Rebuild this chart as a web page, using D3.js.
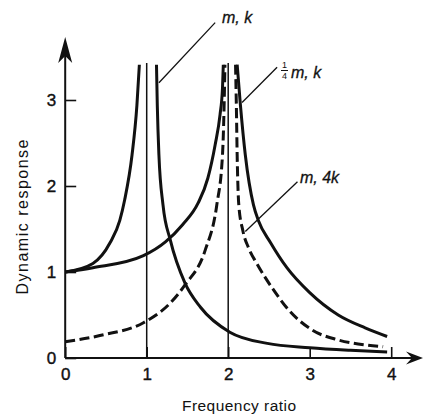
<!DOCTYPE html>
<html>
<head>
<meta charset="utf-8">
<script src="https://cdn.jsdelivr.net/npm/d3@7"></script>
<style>
  body { margin: 0; background: #fff; }
  text { font-family: "Liberation Sans", Arial, sans-serif; fill: #111; }
</style>
</head>
<body>
<div id="plot"></div>
<script>
// curve points: [frequency ratio, dynamic response]
var mkLeft = [[0, 1.0], [0.34, 1.10], [0.55, 1.34], [0.67, 1.60], [0.73, 1.84], [0.82, 2.36], [0.88, 2.94], [0.91, 3.41]]
var mkRight = [[1.12, 3.41], [1.13, 2.94], [1.15, 2.36], [1.20, 1.78], [1.29, 1.37], [1.47, 0.87], [1.66, 0.59], [2.02, 0.30], [2.48, 0.17], [3.0, 0.12], [3.5, 0.09], [3.95, 0.07]]
var quarterLeft = [[0, 1.0], [0.34, 1.05], [0.96, 1.19], [1.23, 1.35], [1.44, 1.55], [1.63, 1.80], [1.75, 2.09], [1.84, 2.48], [1.90, 2.83], [1.93, 3.14], [1.94, 3.41]]
var quarterRight = [[2.11, 3.41], [2.15, 2.94], [2.21, 2.36], [2.31, 1.78], [2.37, 1.60], [2.52, 1.34], [2.72, 1.05], [3.0, 0.76], [3.35, 0.50], [3.68, 0.35], [3.95, 0.25]]
var stiffLeft = [[0, 0.19], [0.47, 0.27], [0.96, 0.41], [1.29, 0.64], [1.47, 0.85], [1.72, 1.26], [1.86, 1.78], [1.93, 2.36], [1.95, 2.94], [1.96, 3.41]]
var stiffRight = [[2.09, 3.41], [2.10, 2.94], [2.11, 2.36], [2.13, 1.78], [2.18, 1.48], [2.25, 1.28], [2.35, 1.10], [2.55, 0.80], [2.75, 0.55], [3.04, 0.32], [3.35, 0.21], [3.7, 0.15], [3.9, 0.13]]

// resonance lines and ticks
var resonances = [1, 2]
var xTicks = [0, 1, 2, 3, 4]
var yTicks = [0, 1, 2, 3]
var curveTop = 3.43

var w = 425
var h = 416

var svg = d3.select("#plot").append("svg")
    .attr("width", w)
    .attr("height", h)

var x = d3.scaleLinear().domain([0, 4]).range([65.2, 391.2])
var y = d3.scaleLinear().domain([0, 3]).range([358, 100])

// axes (ticks point inward)
var xAxis = d3.axisBottom(x).tickValues(xTicks).tickFormat(d3.format("d"))
    .tickSizeInner(-11).tickSizeOuter(0).tickPadding(10)
var yAxis = d3.axisLeft(y).tickValues(yTicks).tickFormat(d3.format("d"))
    .tickSizeInner(-11).tickSizeOuter(0).tickPadding(9)

svg.append("g")
    .attr("transform", "translate(0," + y(0) + ")")
    .call(xAxis)
svg.append("g")
    .attr("transform", "translate(" + x(0) + ",0)")
    .call(yAxis)

svg.selectAll(".domain").remove()
svg.selectAll(".tick line").attr("stroke", "#111").attr("stroke-width", 1.6)
svg.selectAll(".tick text")
    .attr("font-size", 17)
    .attr("font-family", "'Liberation Sans', Arial, sans-serif")
    .attr("fill", "#111")
    .attr("stroke", "#111")
    .attr("stroke-width", 0.4)

// axis lines with arrows
svg.append("line")
    .attr("x1", x(0)).attr("y1", y(0))
    .attr("x2", x(0)).attr("y2", 44)
    .attr("stroke", "#111").attr("stroke-width", 2)
svg.append("line")
    .attr("x1", x(0)).attr("y1", y(0))
    .attr("x2", 416).attr("y2", y(0))
    .attr("stroke", "#111").attr("stroke-width", 2)

var ax = x(0)
svg.append("path")
    .attr("d", "M" + ax + ",37 L" + (ax + 7) + ",63 L" + ax + ",56 L" + (ax - 7) + ",63 Z")
    .attr("fill", "#111")
var ay = y(0)
svg.append("path")
    .attr("d", "M423," + ay + " L406," + (ay - 6.5) + " L412," + ay + " L406," + (ay + 6.5) + " Z")
    .attr("fill", "#111")

// thin resonance lines
svg.selectAll(".res")
    .data(resonances)
    .enter()
    .append("line")
    .attr("class", "res")
    .attr("x1", function(d) { return x(d) })
    .attr("x2", function(d) { return x(d) })
    .attr("y1", y(0))
    .attr("y2", y(curveTop))
    .attr("stroke", "#111")
    .attr("stroke-width", 1.5)

// response curves
var line = d3.line()
    .x(function(d) { return x(d[0]) })
    .y(function(d) { return y(d[1]) })
    .curve(d3.curveMonotoneX)

var solid = [mkLeft, mkRight, quarterLeft, quarterRight]
var dashed = [stiffLeft, stiffRight]

svg.selectAll(".solid")
    .data(solid)
    .enter()
    .append("path")
    .attr("class", "solid")
    .attr("d", line)
    .attr("fill", "none")
    .attr("stroke", "#111")
    .attr("stroke-width", 3)

svg.selectAll(".dashed")
    .data(dashed)
    .enter()
    .append("path")
    .attr("class", "dashed")
    .attr("d", line)
    .attr("fill", "none")
    .attr("stroke", "#111")
    .attr("stroke-width", 3)
    .attr("stroke-dasharray", "10,4.5")

// leader lines
var leaders = [
    [[1.84, 3.90], [1.15, 3.20]],
    [[2.60, 3.38], [2.17, 2.97]],
    [[2.85, 2.05], [2.21, 1.47]]
]
svg.selectAll(".leader")
    .data(leaders)
    .enter()
    .append("line")
    .attr("class", "leader")
    .attr("x1", function(d) { return x(d[0][0]) })
    .attr("y1", function(d) { return y(d[0][1]) })
    .attr("x2", function(d) { return x(d[1][0]) })
    .attr("y2", function(d) { return y(d[1][1]) })
    .attr("stroke", "#111")
    .attr("stroke-width", 1.3)

// curve labels
svg.append("text")
    .attr("x", 222).attr("y", 23)
    .attr("font-size", 16).attr("font-style", "italic")
    .attr("stroke", "#111").attr("stroke-width", 0.3)
    .text("m, k")

svg.append("text")
    .attr("x", 284.5).attr("y", 68)
    .attr("font-size", 9).attr("text-anchor", "middle")
    .text("1")
svg.append("line")
    .attr("x1", 281).attr("x2", 288)
    .attr("y1", 70.5).attr("y2", 70.5)
    .attr("stroke", "#111").attr("stroke-width", 1)
svg.append("text")
    .attr("x", 284.5).attr("y", 79)
    .attr("font-size", 9).attr("text-anchor", "middle")
    .text("4")
svg.append("text")
    .attr("x", 291).attr("y", 78)
    .attr("font-size", 16).attr("font-style", "italic")
    .attr("stroke", "#111").attr("stroke-width", 0.3)
    .text("m, k")

svg.append("text")
    .attr("x", 300).attr("y", 183)
    .attr("font-size", 16).attr("font-style", "italic")
    .attr("stroke", "#111").attr("stroke-width", 0.3)
    .text("m, 4k")

// axis titles
svg.append("text")
    .attr("text-anchor", "middle")
    .attr("font-size", 15.5)
    .attr("textLength", 114)
    .attr("lengthAdjust", "spacing")
    .attr("transform", "translate(239, 411)")
    .text("Frequency ratio")

svg.append("text")
    .attr("text-anchor", "middle")
    .attr("font-size", 16)
    .attr("textLength", 155)
    .attr("lengthAdjust", "spacing")
    .attr("transform", "translate(28, 217) rotate(-90)")
    .text("Dynamic response")
</script>
</body>
</html>
